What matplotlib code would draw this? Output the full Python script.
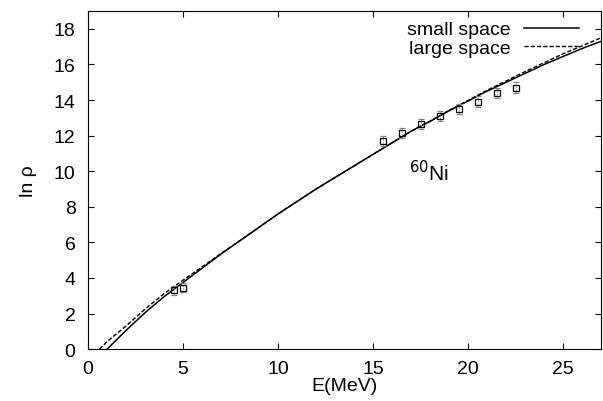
import matplotlib
matplotlib.use("Agg")
import matplotlib.pyplot as plt
import numpy as np

plt.rcParams['font.family'] = ['Liberation Sans', 'DejaVu Sans']

# theory curves
e_small = [1.0, 2, 3, 4, 5, 6, 7, 8, 9, 10, 11, 12, 13, 14, 15, 16, 17, 18, 19, 20,
           21, 22, 23, 24, 25, 26, 27]
ln_small = [0.0, 1.05, 2.05, 2.95, 3.75, 4.55, 5.35, 6.1, 6.85, 7.6, 8.3, 9.0, 9.65,
            10.3, 10.95, 11.6, 12.25, 12.8, 13.4, 13.95, 14.5, 15.0, 15.5, 16.0,
            16.45, 16.9, 17.3]
e_large = [0.6, 1, 2, 3, 4, 5, 6, 7, 8, 9, 10, 11, 12, 13, 14, 15, 16, 17, 18, 19, 20,
           21, 22, 23, 24, 25, 26, 27]
ln_large = [0.0, 0.42, 1.3, 2.25, 3.12, 3.88, 4.62, 5.38, 6.1, 6.85, 7.6, 8.3, 9.0,
            9.65, 10.3, 10.95, 11.6, 12.25, 12.82, 13.42, 13.98, 14.55, 15.07, 15.6,
            16.1, 16.6, 17.05, 17.5]

# data points
e_exp = [4.5, 5.0, 15.5, 16.5, 17.5, 18.5, 19.5, 20.5, 21.5, 22.5]
ln_exp = [3.3, 3.45, 11.7, 12.15, 12.65, 13.1, 13.5, 13.9, 14.4, 14.7]
err_exp = [0.25, 0.25, 0.3, 0.3, 0.3, 0.3, 0.3, 0.3, 0.3, 0.3]

fig = plt.figure(figsize=(6.03, 4.02), dpi=100)
ax = fig.add_axes([0.146, 0.129, 0.851, 0.841])

ax.plot(e_small, ln_small, color='black', lw=1.1, label='small space')
ax.plot(e_large, ln_large, color='black', lw=1.0, ls=(0, (3, 1.5)), label='large space')

eb = ax.errorbar(e_exp, ln_exp, yerr=err_exp, fmt='s', mfc='none', mec='black',
                 ms=5, mew=0.9, ecolor='gray', elinewidth=0.8, capsize=2)
for bar in eb[2]:
    bar.set_linestyle(':')

ax.text(16.9, 9.5, '$^{60}$Ni', fontsize=15)

ax.set_xlim(0, 27)
ax.set_ylim(0, 19)
ax.set_xticks([0, 5, 10, 15, 20, 25])
ax.set_yticks(range(0, 19, 2))
ax.tick_params(direction='in', top=True, right=True, labelsize=14, length=4)
ax.tick_params(axis='y', pad=9)
ax.tick_params(axis='x', pad=8)
ax.set_xlabel('E(MeV)', fontsize=14, labelpad=0)
ax.set_ylabel('ln ρ', fontsize=14, labelpad=12)

ax.legend(loc='upper right', frameon=False, markerfirst=False, fontsize=14,
          handlelength=2.8, borderaxespad=0.2, borderpad=0.3, labelspacing=0.05,
          handletextpad=0.7, bbox_to_anchor=(0.975, 1.0))

fig.savefig('out.png', dpi=100)
